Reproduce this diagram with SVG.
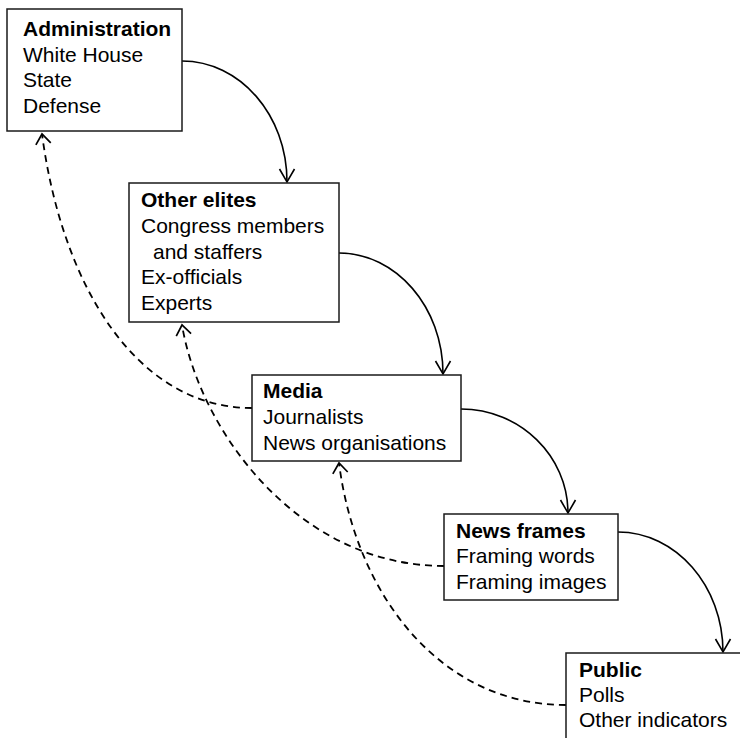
<svg xmlns="http://www.w3.org/2000/svg" width="740" height="738" viewBox="0 0 740 738">
  <style>
    .box { fill: #fff; stroke: #1a1a1a; stroke-width: 1.5; }
    text { font-family: "Liberation Sans", Arial, Helvetica, sans-serif; font-size: 21px; fill: #000; }
    .title { font-weight: bold; }
    .flow { fill: none; stroke: #000; stroke-width: 1.6; marker-end: url(#open); }
    .feedback { fill: none; stroke: #000; stroke-width: 1.8; stroke-dasharray: 7 5; marker-end: url(#open-short); }
  </style>
  <defs>
    <marker id="open" markerUnits="userSpaceOnUse" markerWidth="20" markerHeight="20" viewBox="0 0 20 20" refX="15" refY="10" orient="auto">
      <path d="M2,2.5 L15,10 L2,17.5" fill="none" stroke="#000" stroke-width="1.6"/>
    </marker>
    <marker id="open-short" markerUnits="userSpaceOnUse" markerWidth="20" markerHeight="20" viewBox="0 0 20 20" refX="15" refY="10" orient="auto">
      <path d="M5,2.5 L15,10 L5,17.5" fill="none" stroke="#000" stroke-width="1.7"/>
    </marker>
  </defs>

  <rect width="740" height="738" fill="#fff"/>

  <g id="connectors">
    <!-- forward influence -->
    <path class="flow" d="M182,61 C240,61 287,115 287,182"/>
    <path class="flow" d="M339,253 C396,253 443,307 443,374"/>
    <path class="flow" d="M461,409 C520,409 568,456 568,513"/>
    <path class="flow" d="M618,532 C676,532 723,586 723,652"/>
    <!-- feedback -->
    <path class="feedback" d="M252,408 C136,408 62,285 42,134"/>
    <path class="feedback" d="M444,566 C299,566 200,432 182,325"/>
    <path class="feedback" d="M566,705 C441,705 356,596 339,463"/>
  </g>

  <g id="administration">
    <rect class="box" x="7" y="9" width="175" height="122"/>
    <text class="title" x="23" y="36">Administration</text>
    <text x="23" y="62">White House</text>
    <text x="23" y="87">State</text>
    <text x="23" y="113">Defense</text>
  </g>

  <g id="other-elites">
    <rect class="box" x="129" y="183" width="210" height="139"/>
    <text class="title" x="141" y="207">Other elites</text>
    <text x="141" y="233">Congress members</text>
    <text x="153" y="259">and staffers</text>
    <text x="141" y="284">Ex-officials</text>
    <text x="141" y="310">Experts</text>
  </g>

  <g id="media">
    <rect class="box" x="252" y="375" width="209" height="86"/>
    <text class="title" x="263" y="398">Media</text>
    <text x="263" y="424">Journalists</text>
    <text x="263" y="450">News organisations</text>
  </g>

  <g id="news-frames">
    <rect class="box" x="444" y="514" width="174" height="86"/>
    <text class="title" x="456" y="538">News frames</text>
    <text x="456" y="563">Framing words</text>
    <text x="456" y="589">Framing images</text>
  </g>

  <g id="public">
    <rect class="box" x="566" y="653" width="190" height="100"/>
    <text class="title" x="579" y="677">Public</text>
    <text x="579" y="702">Polls</text>
    <text x="579" y="727">Other indicators</text>
  </g>
</svg>
